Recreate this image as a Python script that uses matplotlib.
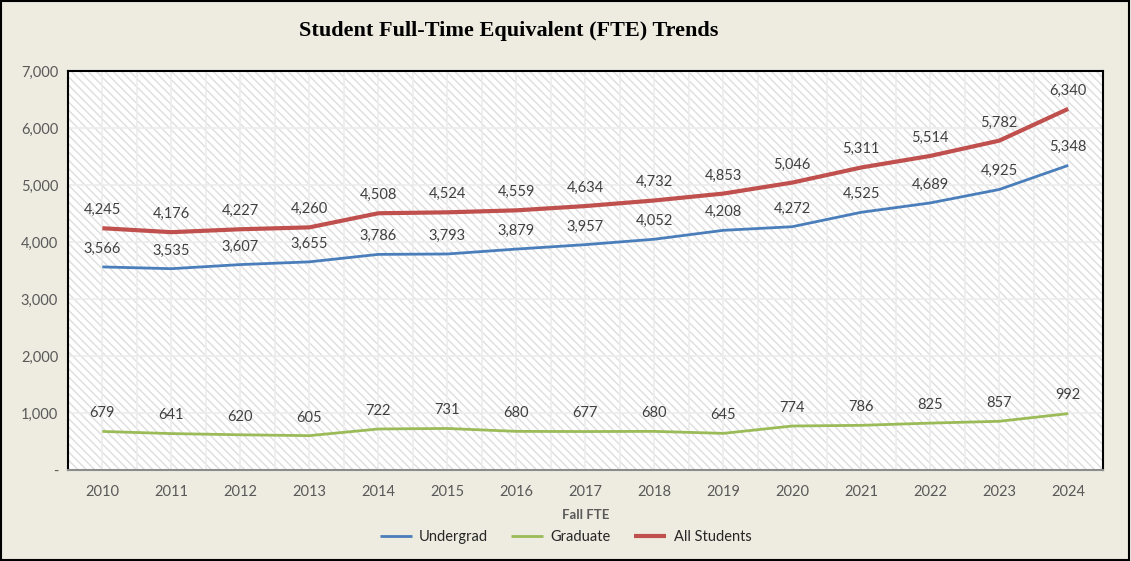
import numpy as np
import matplotlib
matplotlib.use("Agg")
import matplotlib.pyplot as plt
from matplotlib.patches import Rectangle
from matplotlib.ticker import FuncFormatter, MultipleLocator

years = ['2010', '2011', '2012', '2013', '2014', '2015', '2016', '2017',
         '2018', '2019', '2020', '2021', '2022', '2023', '2024']
undergrad = [3566, 3535, 3607, 3655, 3786, 3793, 3879, 3957, 4052, 4208,
             4272, 4525, 4689, 4925, 5348]
graduate = [679, 641, 620, 605, 722, 731, 680, 677, 680, 645,
            774, 786, 825, 857, 992]
all_students = [4245, 4176, 4227, 4260, 4508, 4524, 4559, 4634, 4732, 4853,
                5046, 5311, 5514, 5782, 6340]

plt.rcParams['font.family'] = ['Lato', 'DejaVu Sans']
plt.rcParams['hatch.linewidth'] = 1.0
plt.rcParams['hatch.color'] = '#dedede'

bg = '#eeebe0'
txt = '#595959'

fig = plt.figure(figsize=(11.31, 5.61), dpi=100, facecolor=bg)
ax = fig.add_axes([0.060, 0.162, 0.915, 0.711])
ax.set_facecolor('white')

# hatched plot area like the excel pattern fill
ax.add_patch(Rectangle((0, 0), 1, 1, transform=ax.transAxes, facecolor='white',
                       edgecolor='#dedede', hatch='\\\\\\\\', lw=0, zorder=0))

x = np.arange(len(years))
series = [
    ('Undergrad', undergrad, '#4a7ebb', 2.0),
    ('Graduate', graduate, '#9bbb59', 2.0),
    ('All Students', all_students, '#c0504d', 3.0),
]
for name, vals, col, lw in series:
    ax.plot(x, vals, color=col, lw=lw, label=name, zorder=3, solid_capstyle='butt')
    for xi, v in zip(x, vals):
        ax.annotate(f'{v:,}', (xi, v), xytext=(0, 8), textcoords='offset points',
                    ha='center', va='bottom', fontsize=10.5, color='#404040', zorder=4)

ax.set_xlim(-0.5, len(years) - 0.5)
ax.set_ylim(0, 7000)
ax.set_xticks(x)
ax.set_xticklabels(years)
ax.xaxis.set_minor_locator(MultipleLocator(0.5))
ax.yaxis.set_major_locator(MultipleLocator(1000))
ax.yaxis.set_major_formatter(FuncFormatter(lambda v, p: '-' if v == 0 else f'{int(v):,}'))

ax.grid(True, which='both', axis='x', color='#ececec', lw=1.2, zorder=1)
ax.grid(True, which='major', axis='y', color='#ececec', lw=1.2, zorder=1)
ax.set_axisbelow(True)

ax.tick_params(axis='both', which='both', length=0, labelsize=10.5, colors=txt)
ax.tick_params(axis='x', pad=11)
ax.tick_params(axis='y', pad=7)

for s in ['left', 'top', 'right']:
    ax.spines[s].set_color('black')
    ax.spines[s].set_linewidth(1.5)
ax.spines['bottom'].set_color('#8c8c8c')
ax.spines['bottom'].set_linewidth(1.5)

ax.set_xlabel('Fall FTE', fontsize=9.5, fontweight='bold', color=txt, labelpad=7)

fig.text(0.45, 0.945, 'Student Full-Time Equivalent (FTE) Trends', ha='center', va='center',
         fontsize=16, fontweight='bold', family='Liberation Serif', color='black')

leg = fig.legend(loc='center', bbox_to_anchor=(0.5, 0.042), ncol=3, frameon=False,
                 fontsize=10.5, handlelength=2.2, columnspacing=1.6, handletextpad=0.5)
for t in leg.get_texts():
    t.set_color('#262626')

fig.add_artist(Rectangle((0.001, 0.002), 0.997, 0.996, transform=fig.transFigure,
                         fill=False, edgecolor='black', lw=1.5))

fig.savefig('out.png', dpi=100, facecolor=bg)
